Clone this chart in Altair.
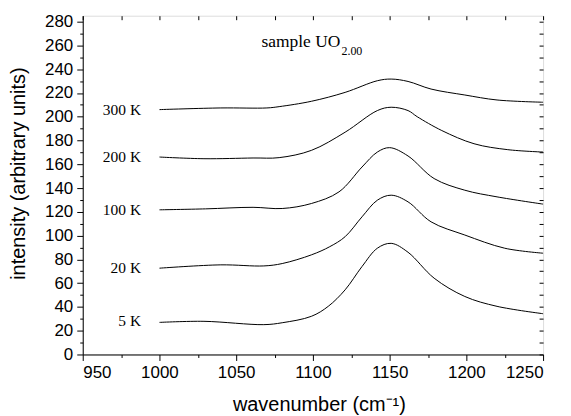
import altair as alt
import pandas as pd

# ---- data ----
wn_300 = [1000, 1040, 1070, 1078, 1099, 1121, 1142, 1151, 1162, 1177, 1199, 1220, 1250]
int_300 = [206, 207.4, 207.4, 208.5, 213, 220.5, 230.3, 231.7, 229.7, 223.3, 218.3, 214.1, 212.2]

wn_200 = [1000, 1029, 1061, 1078, 1099, 1121, 1142, 1151, 1162, 1168, 1184, 1205, 1227, 1250]
int_200 = [166.1, 164.7, 165.3, 165.6, 171.7, 187, 205.2, 208, 205.2, 200, 188.4, 177.3, 172.3, 170.3]

wn_100 = [1000, 1030, 1061, 1080, 1099, 1117, 1132, 1142, 1150, 1162, 1179, 1199, 1220, 1250]
int_100 = [121.7, 122.5, 123.8, 122.8, 127, 136.8, 157.7, 170.3, 174, 167, 148, 138.2, 132.6, 126.5]

wn_20 = [1000, 1040, 1068, 1080, 1099, 1111, 1121, 1132, 1142, 1151, 1162, 1177, 1199, 1225, 1250]
int_20 = [72.6, 75.4, 74.5, 76.5, 83.8, 90.7, 99.1, 115.8, 129.8, 134, 128.4, 111.6, 100.5, 89.4, 85.2]

wn_5 = [1000, 1029, 1068, 1080, 1099, 1110, 1121, 1132, 1142, 1151, 1162, 1179, 1199, 1220, 1250]
int_5 = [27, 27.9, 25.1, 26.7, 32.1, 40.5, 54.4, 74, 89.4, 93.5, 86, 64.2, 48.8, 40.5, 34.3]

series_names = ["300 K", "200 K", "100 K", "20 K", "5 K"]
series_wn = [wn_300, wn_200, wn_100, wn_20, wn_5]
series_int = [int_300, int_200, int_100, int_20, int_5]

label_x = [988, 988, 988, 988, 988]
label_y = [206, 166, 121.5, 73, 28.5]

title_main = "sample UO"
title_sub = "2.00"
title_x = [1066.5, 1118.6]
title_y = [259, 252]

x_ticks = list(range(950, 1251, 25))
y_ticks = list(range(0, 281, 10))

rows = []
for name, xs, ys in zip(series_names, series_wn, series_int):
    for xv, yv in zip(xs, ys):
        rows.append({"series": name, "wn": xv, "intensity": yv})
df = pd.DataFrame(rows)

labels_df = pd.DataFrame({"series": series_names, "wn": label_x, "intensity": label_y})
title_df = pd.DataFrame({"txt": [title_main], "wn": [title_x[0]], "intensity": [title_y[0]]})
sub_df = pd.DataFrame({"txt": [title_sub], "wn": [title_x[1]], "intensity": [title_y[1]]})

xscale = alt.Scale(domain=[950, 1250], nice=False, zero=False)
yscale = alt.Scale(domain=[0, 285], nice=False)

sans = "Liberation Sans"
serif = "Liberation Serif"

x_axis = alt.Axis(
    values=x_ticks,
    labelExpr="datum.value % 50 === 0 ? datum.label : ''",
    format="d",
    tickSize={"condition": {"test": "datum.value % 50 === 0", "value": 6}, "value": 3},
    labelPadding=4,
    labelFont=sans, labelFontSize=17, labelColor="black",
    title="wavenumber (cm⁻¹)", titleFont=sans, titleFontSize=20,
    titleFontWeight="normal", titleColor="black",
    titleX=237, titleY=56, titleBaseline="alphabetic", titleAlign="center",
    grid=False, domainColor="black", tickColor="black",
)
y_axis = alt.Axis(
    values=y_ticks,
    labelExpr="datum.value % 20 === 0 ? datum.label : ''",
    tickSize={"condition": {"test": "datum.value % 20 === 0", "value": 6}, "value": 3},
    labelPadding=4,
    labelFont=sans, labelFontSize=17, labelColor="black",
    title="intensity (arbitrary units)", titleFont=sans, titleFontSize=20,
    titleFontWeight="normal", titleColor="black",
    titleX=-58, titleY=158, titleAngle=-90, titleBaseline="alphabetic", titleAlign="center",
    grid=False, domainColor="black", tickColor="black",
)

lines = alt.Chart(df).mark_line(color="black", strokeWidth=1, interpolate="catmull-rom").encode(
    x=alt.X("wn:Q", scale=xscale, axis=x_axis),
    y=alt.Y("intensity:Q", scale=yscale, axis=y_axis),
    detail="series:N",
)

mirror = alt.Chart(df).mark_point(opacity=0).encode(
    x=alt.X("wn:Q", scale=xscale, axis=alt.Axis(orient="top", values=x_ticks, labels=False, title=None,
                                               domain=False, tickSize=4, offset=-4, tickColor="black", grid=False)),
    y=alt.Y("intensity:Q", scale=yscale, axis=alt.Axis(orient="right", values=y_ticks, labels=False, title=None,
                                                       domain=False, tickSize=4, offset=-4, tickColor="black", grid=False)),
)

labels = alt.Chart(labels_df).mark_text(font=serif, fontSize=15.5, align="right", baseline="middle", color="black").encode(
    x=alt.X("wn:Q", scale=xscale, axis=None),
    y=alt.Y("intensity:Q", scale=yscale, axis=None),
    text="series:N",
)

title_txt = alt.Chart(title_df).mark_text(font=serif, fontSize=17.5, align="left", baseline="alphabetic", color="black").encode(
    x=alt.X("wn:Q", scale=xscale, axis=None),
    y=alt.Y("intensity:Q", scale=yscale, axis=None),
    text="txt:N",
)
sub_txt = alt.Chart(sub_df).mark_text(font=serif, fontSize=12, align="left", baseline="alphabetic", color="black").encode(
    x=alt.X("wn:Q", scale=xscale, axis=None),
    y=alt.Y("intensity:Q", scale=yscale, axis=None),
    text="txt:N",
)

chart = alt.layer(lines, mirror, labels, title_txt, sub_txt).resolve_axis(
    x="independent", y="independent"
).properties(
    width=462, height=340,
    autosize=alt.AutoSizeParams(type="none"),
    padding={"left": 75, "top": 7, "right": 20, "bottom": 60},
).configure_view(stroke="black", strokeWidth=1).configure(background="white")

chart.save("out.html", embed_options={"renderer": "svg", "actions": False})
